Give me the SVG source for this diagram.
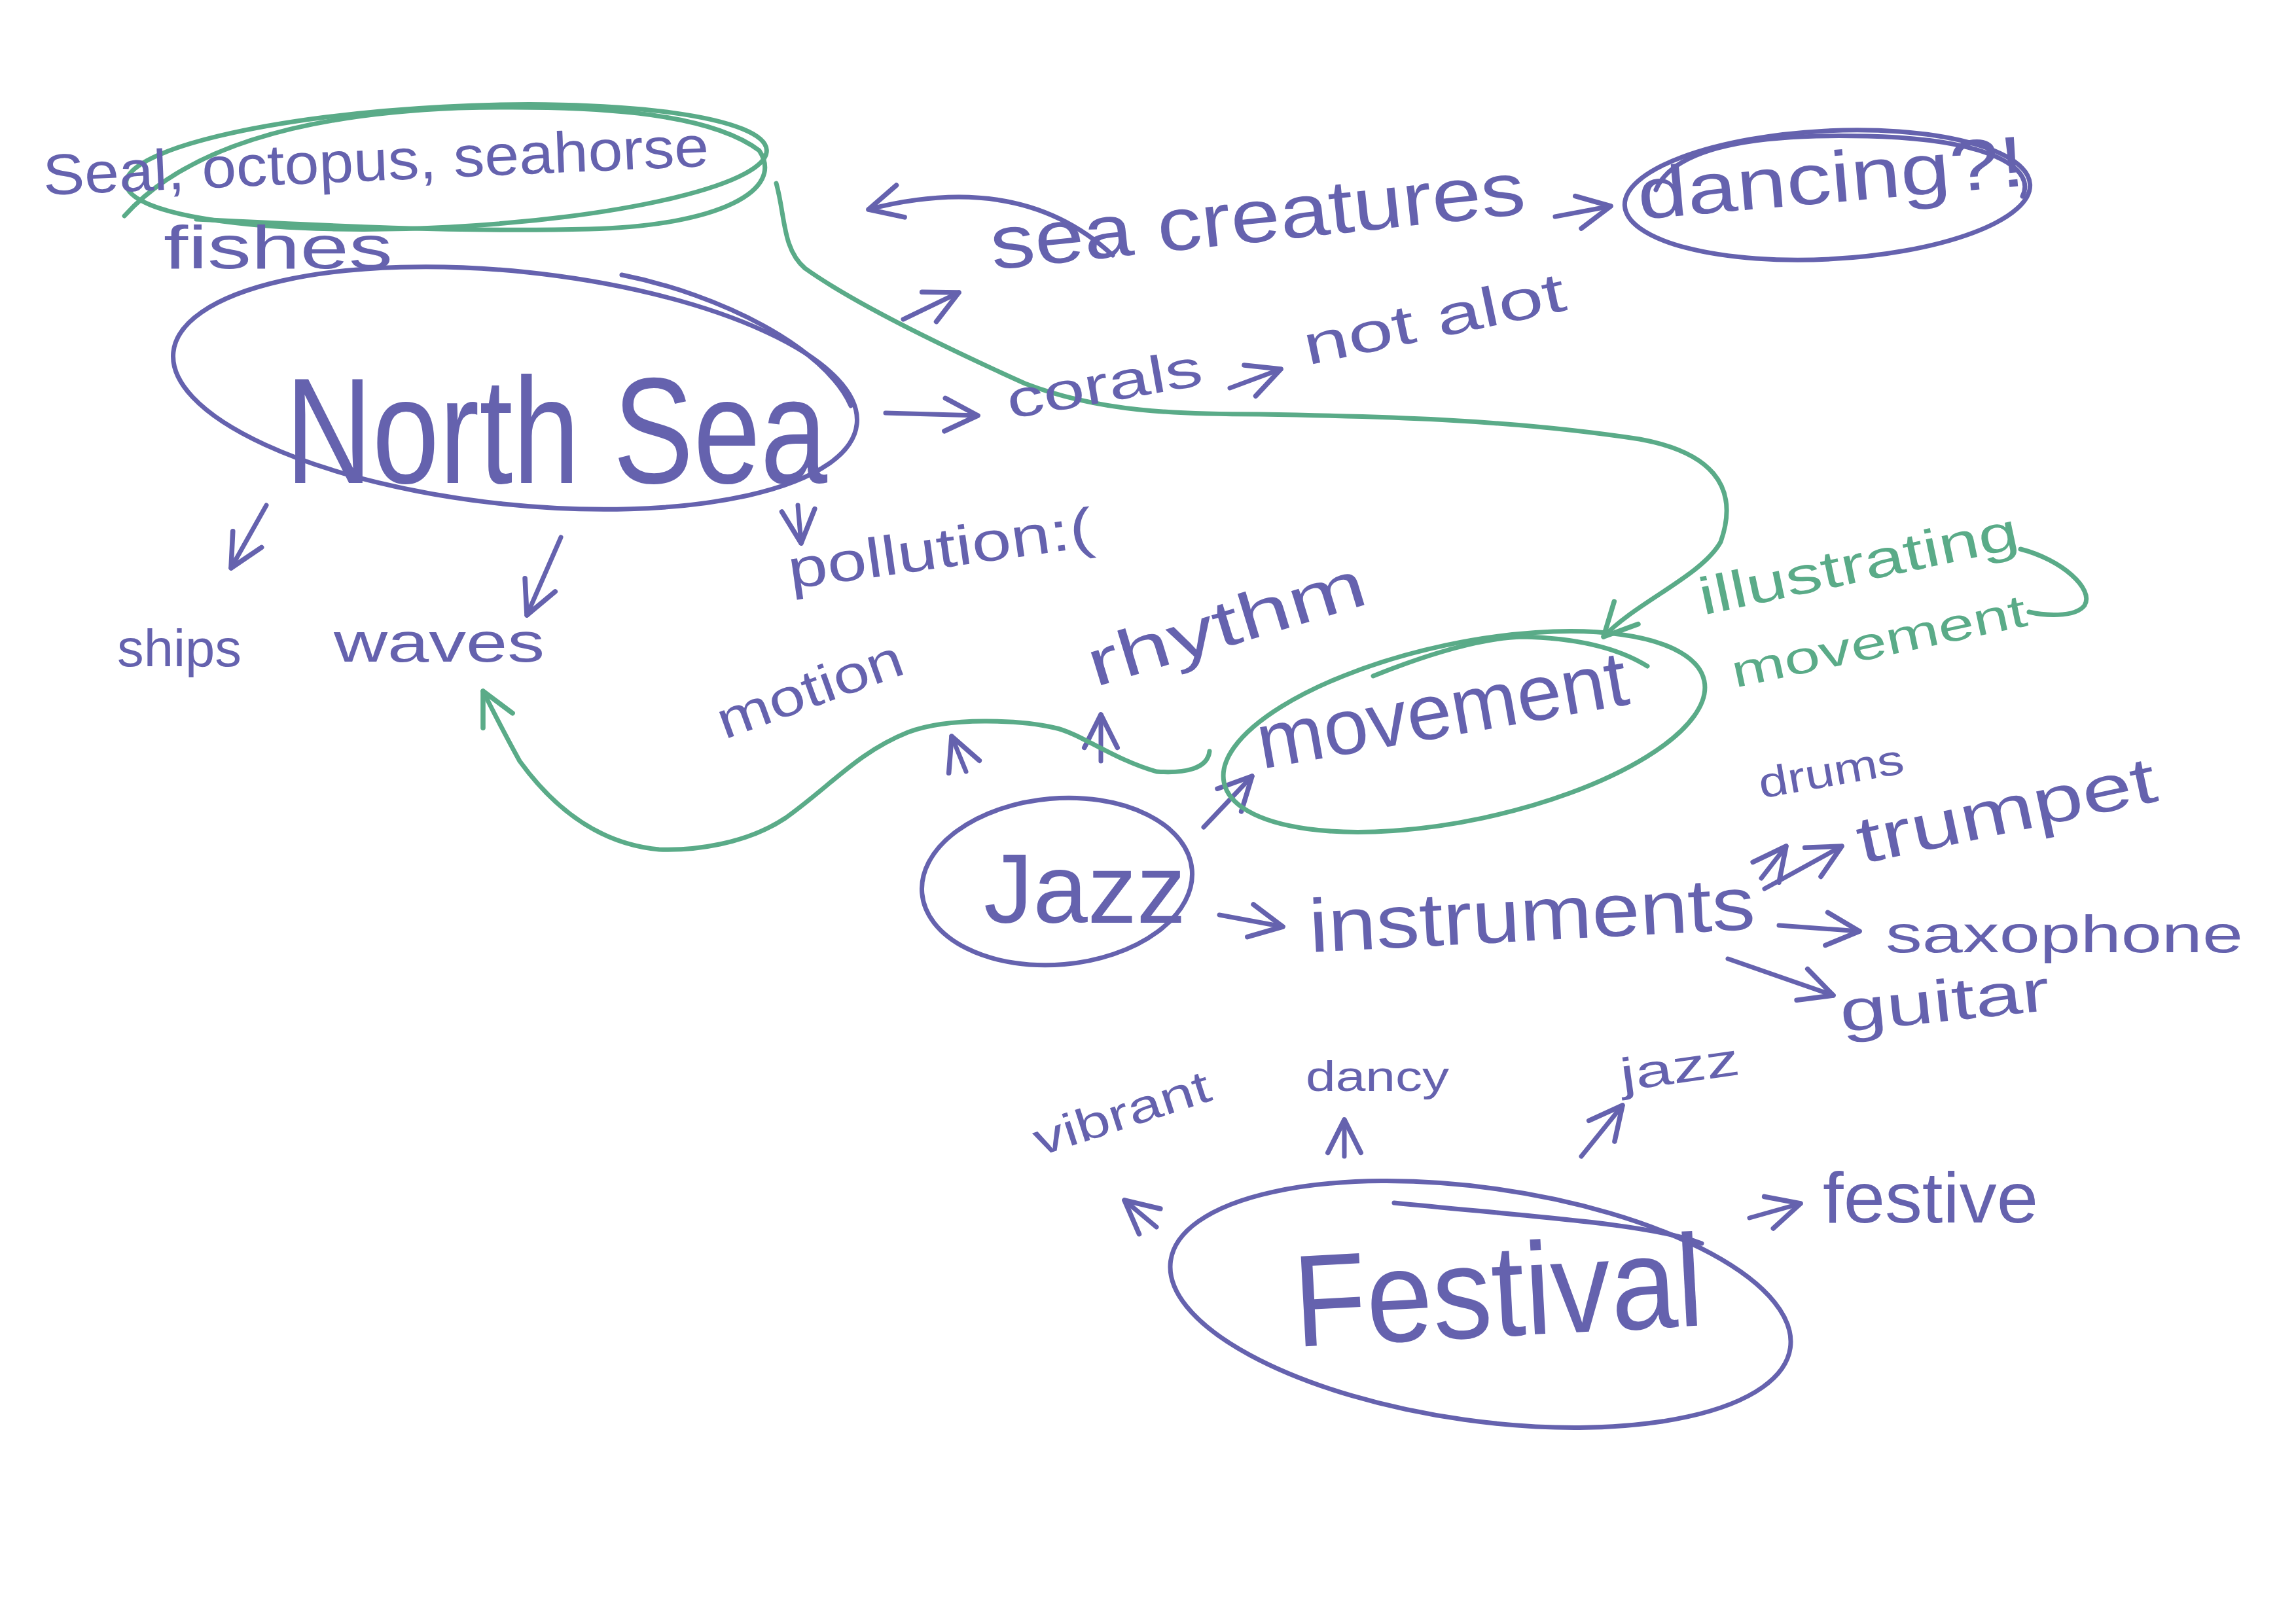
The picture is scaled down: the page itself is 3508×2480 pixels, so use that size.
<svg xmlns="http://www.w3.org/2000/svg" width="3508" height="2480" viewBox="0 0 3508 2480">
<style>
.p{fill:none;stroke:#6562ae;stroke-width:7;stroke-linecap:round;stroke-linejoin:round}
.g{fill:none;stroke:#5aab88;stroke-width:7;stroke-linecap:round;stroke-linejoin:round}
.t{font-family:"Liberation Sans","DejaVu Sans",sans-serif;fill:#6562ae}
.tg{font-family:"Liberation Sans","DejaVu Sans",sans-serif;fill:#5aab88}
</style>
<defs>
<marker id="ap" viewBox="0 0 20 20" refX="18" refY="10" markerWidth="9" markerHeight="9" markerUnits="strokeWidth" orient="auto">
<path d="M2,2 L18,10 L2,18" fill="none" stroke="#6562ae" stroke-width="2.4" stroke-linecap="round" stroke-linejoin="round"/>
</marker>
<marker id="ag" viewBox="0 0 20 20" refX="18" refY="10" markerWidth="9" markerHeight="9" markerUnits="strokeWidth" orient="auto">
<path d="M2,2 L18,10 L2,18" fill="none" stroke="#5aab88" stroke-width="2.4" stroke-linecap="round" stroke-linejoin="round"/>
</marker>
</defs>
<rect width="3508" height="2480" fill="#ffffff"/>

<g id="connectors">
<path class="p" d="M407,772 L353,868" marker-end="url(#ap)"/>
<path class="p" d="M857,821 L805,940" marker-end="url(#ap)"/>
<path class="p" d="M1219,772 L1224,830" marker-end="url(#ap)"/>
<path class="p" d="M1353,631 L1494,635" marker-end="url(#ap)"/>
<path class="p" d="M1879,593 L1957,564" marker-end="url(#ap)"/>
<path class="p" d="M1380,488 L1465,447" marker-end="url(#ap)"/>
<path class="p" d="M1700,390 Q1560,260 1327,320" marker-end="url(#ap)"/>
<path class="p" d="M2376,331 L2461,315" marker-end="url(#ap)"/>
<path class="p" d="M1476,1179 L1454,1125" marker-end="url(#ap)"/>
<path class="p" d="M1682,1163 L1682,1092" marker-end="url(#ap)"/>
<path class="p" d="M1839,1264 L1913,1186" marker-end="url(#ap)"/>
<path class="p" d="M1863,1398 L1960,1416" marker-end="url(#ap)"/>
<path class="p" d="M2691,1342 L2729,1293" marker-end="url(#ap)"/>
<path class="p" d="M2696,1358 L2814,1293" marker-end="url(#ap)"/>
<path class="p" d="M2718,1414 L2841,1423" marker-end="url(#ap)"/>
<path class="p" d="M2640,1465 L2801,1521" marker-end="url(#ap)"/>
<path class="p" d="M1767,1875 L1718,1834" marker-end="url(#ap)"/>
<path class="p" d="M2054,1767 L2054,1711" marker-end="url(#ap)"/>
<path class="p" d="M2416,1767 L2479,1689" marker-end="url(#ap)"/>
<path class="p" d="M2673,1861 L2751,1839" marker-end="url(#ap)"/>
<path class="g" d="M1186,280 C1200,330 1195,380 1230,410 C1300,460 1420,520 1566,586 C1680,630 1800,633 1924,633 C2100,636 2300,640 2505,671 C2610,690 2660,740 2629,828 C2600,880 2500,920 2450,973" marker-end="url(#ag)"/>
<path class="g" d="M1848,1148 C1845,1175 1810,1182 1767,1179 C1700,1160 1650,1120 1611,1112 C1560,1100 1450,1095 1387,1119 C1310,1150 1270,1200 1200,1250 C1140,1290 1060,1300 1007,1298 C920,1290 850,1240 794,1163 C770,1120 755,1090 738,1056" marker-end="url(#ag)"/>
</g>

<g id="node-sea-animals">
<ellipse class="g" cx="682" cy="255" rx="490" ry="92" transform="rotate(-3 682 255)"/>
<path class="g" d="M190,330 C280,230 450,175 700,165 C900,160 1080,170 1160,230 C1200,290 1100,345 900,350 C700,355 500,345 300,335"/>
<text class="t" x="67" y="298" font-size="88" textLength="1018" lengthAdjust="spacingAndGlyphs" transform="rotate(-2.5 67 298)">Seal, octopus, seahorse</text>
<text class="t" x="250" y="410" font-size="92" textLength="350" lengthAdjust="spacingAndGlyphs">fishes</text>
</g>

<g id="node-north-sea">
<ellipse class="p" cx="787" cy="593" rx="525" ry="178" transform="rotate(6 787 593)"/>
<path class="p" d="M950,420 C1100,450 1260,530 1300,620"/>
<text class="t" x="436" y="738" font-size="230" textLength="828" lengthAdjust="spacingAndGlyphs">North Sea</text>
</g>

<g id="node-ships"><text class="t" x="179" y="1018" font-size="80" textLength="190" lengthAdjust="spacingAndGlyphs">ships</text></g>
<g id="node-waves"><text class="t" x="510" y="1011" font-size="85" textLength="322" lengthAdjust="spacingAndGlyphs">waves</text></g>
<g id="node-pollution"><text class="t" x="1208" y="900" font-size="85" textLength="470" lengthAdjust="spacingAndGlyphs" transform="rotate(-8 1208 900)">pollution:(</text></g>
<g id="node-corals"><text class="t" x="1543" y="640" font-size="80" textLength="302" lengthAdjust="spacingAndGlyphs" transform="rotate(-10 1543 640)">corals</text></g>
<g id="node-not-alot"><text class="t" x="1998" y="558" font-size="85" textLength="407" lengthAdjust="spacingAndGlyphs" transform="rotate(-12 1998 558)">not alot</text></g>
<g id="node-sea-creatures"><text class="t" x="1517" y="412" font-size="115" textLength="821" lengthAdjust="spacingAndGlyphs" transform="rotate(-6 1517 412)">sea creatures</text></g>

<g id="node-dancing">
<ellipse class="p" cx="2792" cy="298" rx="310" ry="98" transform="rotate(-3 2792 298)"/>
<path class="p" d="M2530,290 C2560,220 2700,200 2900,210 C3050,220 3110,260 3090,300"/>
<text class="t" x="2505" y="335" font-size="110" textLength="593" lengthAdjust="spacingAndGlyphs" transform="rotate(-5 2505 335)">dancing?!</text>
</g>

<g id="node-movement">
<ellipse class="g" cx="2237" cy="1118" rx="375" ry="135" transform="rotate(-12 2237 1118)"/>
<path class="g" d="M2098,1033 C2180,1000 2260,975 2326,973 C2420,975 2480,995 2517,1018"/>
<text class="t" x="1928" y="1175" font-size="120" textLength="573" lengthAdjust="spacingAndGlyphs" transform="rotate(-10 1928 1175)">movement</text>
</g>

<g id="node-illustrating">
<path class="g" d="M3087,839 C3150,855 3200,900 3185,925 C3170,945 3120,940 3100,935"/>
<text class="tg" x="2602" y="940" font-size="80" textLength="497" lengthAdjust="spacingAndGlyphs" transform="rotate(-12 2602 940)">illustrating</text>
<text class="tg" x="2651" y="1051" font-size="70" textLength="459" lengthAdjust="spacingAndGlyphs" transform="rotate(-12 2651 1051)">movement</text>
</g>

<g id="node-rhythm"><text class="t" x="1673" y="1050" font-size="100" textLength="440" lengthAdjust="spacingAndGlyphs" transform="rotate(-17 1673 1050)">rhythm</text></g>
<g id="node-motion"><text class="t" x="1107" y="1130" font-size="80" textLength="297" lengthAdjust="spacingAndGlyphs" transform="rotate(-20 1107 1130)">motion</text></g>

<g id="node-jazz">
<ellipse class="p" cx="1615" cy="1347" rx="207" ry="127" transform="rotate(-5 1615 1347)"/>
<text class="t" x="1503" y="1410" font-size="150" textLength="309" lengthAdjust="spacingAndGlyphs">Jazz</text>
</g>

<g id="node-instruments"><text class="t" x="2002" y="1455" font-size="115" textLength="682" lengthAdjust="spacingAndGlyphs" transform="rotate(-3 2002 1455)">instruments</text></g>
<g id="node-drums"><text class="t" x="2691" y="1220" font-size="65" textLength="224" lengthAdjust="spacingAndGlyphs" transform="rotate(-10 2691 1220)">drums</text></g>
<g id="node-trumpet"><text class="t" x="2845" y="1320" font-size="100" textLength="465" lengthAdjust="spacingAndGlyphs" transform="rotate(-12 2845 1320)">trumpet</text></g>
<g id="node-saxophone"><text class="t" x="2881" y="1455" font-size="80" textLength="546" lengthAdjust="spacingAndGlyphs">saxophone</text></g>
<g id="node-guitar"><text class="t" x="2814" y="1577" font-size="90" textLength="322" lengthAdjust="spacingAndGlyphs" transform="rotate(-6 2814 1577)">guitar</text></g>

<g id="node-festival">
<ellipse class="p" cx="2262" cy="1993" rx="478" ry="178" transform="rotate(8 2262 1993)"/>
<path class="p" d="M2130,1838 C2350,1860 2520,1870 2600,1900"/>
<text class="t" x="1980" y="2058" font-size="200" textLength="626" lengthAdjust="spacingAndGlyphs" transform="rotate(-3 1980 2058)">Festival</text>
</g>
<g id="node-vibrant"><text class="t" x="1588" y="1767" font-size="70" textLength="280" lengthAdjust="spacingAndGlyphs" transform="rotate(-18 1588 1767)">vibrant</text></g>
<g id="node-dancy"><text class="t" x="1995" y="1667" font-size="65" textLength="219" lengthAdjust="spacingAndGlyphs">dancy</text></g>
<g id="node-jazz2"><text class="t" x="2479" y="1667" font-size="70" textLength="183" lengthAdjust="spacingAndGlyphs" transform="rotate(-8 2479 1667)">jazz</text></g>
<g id="node-festive"><text class="t" x="2785" y="1868" font-size="110" textLength="329" lengthAdjust="spacingAndGlyphs">festive</text></g>
</svg>
